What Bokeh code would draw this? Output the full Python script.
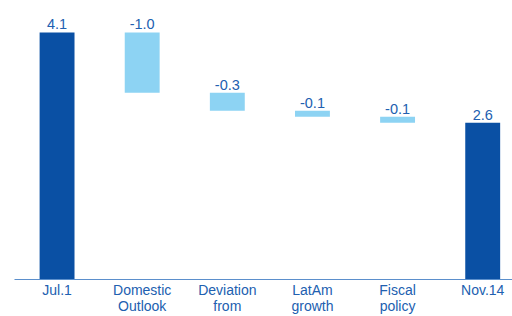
from bokeh.plotting import figure
from bokeh.models import ColumnDataSource, FixedTicker, Range1d
from bokeh.core.properties import value
from bokeh.embed import file_html
from bokeh.resources import INLINE

# ---- data ----
categories = ["Jul.1", "Domestic\nOutlook", "Deviation\nfrom", "LatAm\ngrowth", "Fiscal\npolicy", "Nov.14"]
changes = [4.1, -1.0, -0.3, -0.1, -0.1, 2.6]
kinds = ["total", "delta", "delta", "delta", "delta", "total"]
value_labels = ["4.1", "-1.0", "-0.3", "-0.1", "-0.1", "2.6"]

DARK = "#0a50a4"
LIGHT = "#8dd3f3"
TEXT = "#2160b0"
FONT = "Liberation Sans"

xs = list(range(len(categories)))
tops, bottoms, colors = [], [], []
level = 0.0
for c, k in zip(changes, kinds):
    if k == "total":
        bottoms.append(0.0)
        tops.append(c)
        level = c
        colors.append(DARK)
    else:
        new = level + c
        tops.append(level)
        bottoms.append(new)
        level = new
        colors.append(LIGHT)

src = ColumnDataSource(dict(x=xs, top=tops, bottom=bottoms, color=colors, label=value_labels))

p = figure(width=512, height=316, output_backend="svg", toolbar_location=None,
           x_range=Range1d(-0.5, 5.35), y_range=Range1d(0, 4.53),
           min_border_left=14, min_border_right=0, min_border_top=6, min_border_bottom=20)
p.outline_line_color = None
p.grid.visible = False
p.yaxis.visible = False
p.background_fill_color = "white"

p.vbar(x="x", top="top", bottom="bottom", width=0.41, fill_color="color", line_color=None, source=src)
p.text(x="x", y="top", text="label", source=src, text_align="center", text_baseline="alphabetic",
       y_offset=-8, text_font=value(FONT), text_font_size="14.5px", text_color=TEXT)

ax = p.xaxis[0]
ax.ticker = FixedTicker(ticks=xs)
ax.major_label_overrides = {i: c for i, c in zip(xs, categories)}
ax.major_tick_line_color = None
ax.minor_tick_line_color = None
ax.major_tick_out = 0
ax.major_tick_in = 0
ax.axis_line_color = "#5b8fcc"
ax.axis_line_width = 1.2
ax.major_label_text_font = FONT
ax.major_label_text_font_size = "14px"
ax.major_label_text_line_height = 1.0
ax.major_label_text_color = TEXT
ax.major_label_standoff = 2

open("out.html", "w").write(file_html(p, INLINE))
